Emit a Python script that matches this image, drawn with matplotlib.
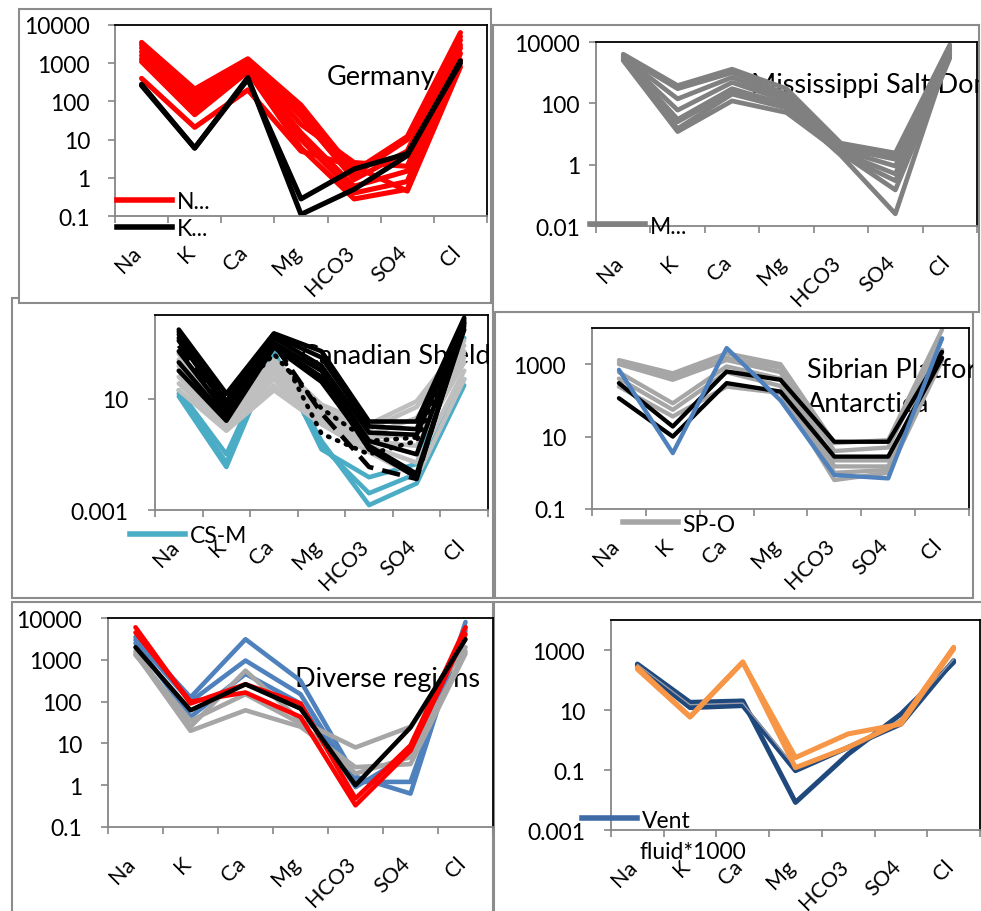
import matplotlib
matplotlib.use("Agg")
import matplotlib.pyplot as plt
from matplotlib.patches import Rectangle
from matplotlib.lines import Line2D
from matplotlib.ticker import NullLocator
from matplotlib.transforms import ScaledTranslation
import numpy as np

plt.rcParams["font.family"] = ["Lato", "DejaVu Sans"]

W, H, DPI = 981, 912, 100
TICK_FS = 16.5
CAT_FS = 15.5
TITLE_FS = 19.5

ions = ["Na", "K", "Ca", "Mg", "HCO3", "SO4", "Cl"]

# ---------------- Germany ----------------
germany_n = [
    [3500, 210, 1300, 80, 1.5, 12, 6300],
    [3000, 160, 1200, 60, 1.2, 10, 5000],
    [2500, 120, 1000, 40, 0.9, 5, 4000],
    [2000, 90, 900, 25, 2.5, 2, 3000],
    [1600, 70, 800, 15, 0.6, 1.5, 2500],
    [1300, 55, 700, 10, 0.4, 0.8, 1800],
    [1100, 45, 600, 6, 0.28, 0.5, 1200],
    [400, 21, 200, 5, 2.0, 0.45, 800],
]
germany_k = [
    [280, 6, 420, 0.11, 0.5, 3.8, 1150],
    [260, 6, 380, 0.28, 1.7, 4.3, 1000],
]

# ---------------- Mississippi Salt Dome ----------------
mississippi = [
    [4000, 380, 1300, 300, 5, 2.4, 8000],
    [3500, 300, 1000, 200, 4, 2, 7000],
    [3200, 140, 700, 150, 3.5, 1.5, 6000],
    [3000, 60, 480, 120, 3, 0.9, 5000],
    [2800, 30, 300, 90, 2.5, 0.5, 4000],
    [2600, 15, 200, 70, 2.2, 0.3, 3500],
    [2500, 12, 120, 50, 2.4, 0.15, 3000],
    [3300, 25, 250, 80, 2.0, 0.025, 5000],
]

# ---------------- Canadian Shield ----------------
canadian_m = [
    [12, 0.035, 400, 0.3, 0.0015, 0.009, 30],
    [15, 0.05, 300, 0.2, 0.004, 0.02, 50],
    [20, 0.1, 500, 0.15, 0.015, 0.045, 1500],
]
canadian_gray = [
    [400, 6, 250, 6, 1.2, 8, 1200],
    [250, 4, 180, 4, 0.8, 5, 800],
    [150, 2.5, 120, 3, 0.5, 2, 500],
    [100, 1.8, 80, 2, 0.4, 0.5, 300],
    [60, 1.2, 50, 1.5, 0.3, 0.2, 200],
    [35, 0.9, 30, 1.3, 0.2, 0.05, 100],
    [20, 0.7, 20, 1.2, 0.12, 0.015, 50],
]
canadian_black = [
    [3000, 15, 2200, 500, 1.5, 1.5, 8000],
    [2000, 8, 1800, 300, 1.0, 0.8, 7000],
    [1200, 5, 1500, 150, 0.6, 0.5, 6000],
    [500, 3, 1000, 100, 0.3, 0.1, 5000],
    [200, 2, 800, 60, 0.15, 0.015, 4000],
    [100, 1.6, 700, 40, 0.2, 0.02, 3000],
]
canadian_dotted = [
    [2500, 10, 1250, 0.55, 0.1, 0.3, 4000],
    [1500, 6, 400, 4.4, 0.3, 0.4, 5000],
]
canadian_dashed = [
    [800, 4, 900, 3, 0.035, 0.013, 6000],
]

# ---------------- Siberian Platform / Antarctica ----------------
siberian_o = [
    [1300, 560, 2000, 1000, 6.6, 8, 9000],
    [1100, 450, 1500, 800, 4, 5, 5000],
    [1000, 370, 1300, 600, 2.2, 2.2, 2500],
    [600, 83, 870, 400, 1.5, 1.5, 2000],
    [400, 55, 600, 250, 1, 1.2, 1500],
    [240, 36, 240, 160, 0.63, 1, 1300],
]
siberian_black = [
    [300, 19, 630, 370, 7.2, 7.2, 2200],
    [115, 10, 300, 175, 2.8, 2.8, 1500],
]
antarctica = [700, 3.5, 2800, 100, 0.87, 0.7, 5200]

# ---------------- Diverse regions ----------------
diverse_blue = [
    [3500, 126, 3100, 316, 1.6, 0.63, 8000],
    [3000, 100, 960, 150, 1.2, 1.2, 6000],
    [2500, 43, 460, 90, 0.9, 5.6, 5000],
]
diverse_gray = [
    [1600, 25, 550, 35, 8, 25, 2000],
    [1400, 20, 62, 25, 2.7, 3.2, 1400],
    [1300, 35, 150, 30, 1.9, 4.7, 1600],
]
diverse_red = [
    [6000, 90, 260, 90, 0.48, 9, 6000],
    [4500, 100, 165, 43, 0.33, 6.7, 4100],
]
diverse_black = [2000, 62, 260, 68, 1.0, 24, 3100]

# ---------------- Vent fluid ----------------
vent = [
    [340, 18, 20, 0.0083, 0.34, 7.3, 390],
    [300, 12, 14, 0.095, 0.57, 3.4, 440],
]
vent_thin = [330, 15, 17, 0.12, 0.5, 5, 500]
vent_orange = [
    [230, 5.8, 390, 0.26, 1.6, 3.4, 1080],
    [260, 6, 400, 0.12, 0.57, 4, 1230],
]

fig = plt.figure(figsize=(W / DPI, H / DPI), dpi=DPI)
bg = fig.add_axes([0, 0, 1, 1])
bg.set_xlim(0, W)
bg.set_ylim(H, 0)
bg.axis("off")


def frame(x0, y0, x1, y1):
    r = Rectangle((x0, y0), x1 - x0, y1 - y0, facecolor="white",
                  edgecolor="#8c8c8c", lw=1.5)
    bg.add_patch(r)
    return r


fr_can = frame(12, 299, 493, 599)
fr_ger = frame(19, 10, 491, 304)
fr_sib = frame(495, 313, 973, 599)
fr_mis = frame(493, 26, 979, 313)
fr_div = frame(12, 603, 493, 920)
fr_ven = frame(494, 603, 990, 920)

x = np.arange(len(ions))


def panel(box, ylim, yticks, ylabels, ytotal):
    x0, y0, x1, y1 = box
    ax = fig.add_axes([x0 / W, 1 - y1 / H, (x1 - x0) / W, (y1 - y0) / H])
    ax.set_yscale("log")
    ax.set_ylim(*ylim)
    ax.set_xlim(-0.5, 6.5)
    ax.set_yticks(yticks)
    ax.set_yticklabels(ylabels)
    ax.yaxis.set_minor_locator(NullLocator())
    ax.set_xticks(np.arange(-0.5, 7, 1))
    ax.set_xticklabels([""] * 8)
    ax.set_xticks(x, minor=True)
    ax.set_xticklabels(ions, minor=True)
    tick_len = 5
    ax.tick_params(which="major", direction="out", length=tick_len,
                   width=1.2, color="#868686", labelsize=TICK_FS)
    ax.tick_params(axis="y", pad=(ytotal * 72 / DPI) - tick_len)
    ax.tick_params(axis="x", which="minor", length=0,
                   pad=26 * 72 / DPI, labelsize=CAT_FS)
    for s in ["left", "bottom"]:
        ax.spines[s].set_color("#868686")
        ax.spines[s].set_linewidth(1.3)
    for s in ["top", "right"]:
        ax.spines[s].set_color("black")
        ax.spines[s].set_linewidth(1.3)
    shift = ScaledTranslation(4 / DPI, 0, fig.dpi_scale_trans)
    for lbl in ax.get_xticklabels(minor=True):
        lbl.set_rotation(45)
        lbl.set_ha("right")
        lbl.set_transform(lbl.get_transform() + shift)
    return ax


def draw(ax, rows, color, lw=3.4, ls="-", **kw):
    hs = []
    for r in rows:
        h, = ax.plot(x, r, color=color, lw=lw, ls=ls,
                     solid_capstyle="round", solid_joinstyle="round", **kw)
        hs.append(h)
    return hs


def title(ax, px, py, s, clip, **kw):
    t = ax.text(px, py, s, transform=bg.transData, fontsize=TITLE_FS,
                va="center", ha="left", zorder=1, **kw)
    t.set_clip_on(True)
    t.set_clip_path(clip)
    return t


def legend(ax, handles, labels, px, py, spacing=0.3):
    leg = ax.legend(handles, labels, loc="center left",
                    bbox_to_anchor=(px / W, 1 - py / H),
                    bbox_transform=fig.transFigure, frameon=False,
                    borderpad=0, borderaxespad=0, handlelength=2.4,
                    handletextpad=0.2, fontsize=TICK_FS, labelspacing=spacing)
    return leg


# Germany
ax1 = panel((115, 26, 487, 217), (0.1, 10000),
            [0.1, 1, 10, 100, 1000, 10000],
            ["0.1", "1", "10", "100", "1000", "10000"], 25)
title(ax1, 327, 78, "Germany", fr_ger)
draw(ax1, germany_n, "#ff0000", lw=3.7)
draw(ax1, germany_k, "black", lw=3.7)
legend(ax1, [Line2D([], [], color="#ff0000", lw=4.0),
             Line2D([], [], color="black", lw=4.0)],
       ["N...", "K..."], 117, 216, spacing=0.3)

# Mississippi
ax2 = panel((596, 43, 977, 227), (0.01, 10000),
            [0.01, 1, 100, 10000], ["0.01", "1", "100", "10000"], 16)
title(ax2, 751, 85, "Mississippi Salt Dome", fr_mis)
draw(ax2, mississippi, "#808080", lw=3.4)
legend(ax2, [Line2D([], [], color="#808080", lw=4.0)], ["M..."], 590, 227)

# Canadian Shield
ax3 = panel((155, 316, 488, 511), (0.001, 10000),
            [0.001, 10], ["0.001", "10"], 27)
title(ax3, 301, 357, "Canadian Shield", fr_can)
draw(ax3, canadian_m, "#4bacc6", lw=3.3)
draw(ax3, canadian_gray, "#bfbfbf", lw=3.3)
draw(ax3, canadian_black, "black", lw=3.3)
for r in canadian_dotted:
    ax3.plot(x, r, color="black", lw=3.3, ls=(0, (0.3, 1.8)),
             dash_capstyle="round")
for r in canadian_dashed:
    ax3.plot(x, r, color="black", lw=3.3, ls=(0, (4, 2)))
legend(ax3, [Line2D([], [], color="#4bacc6", lw=4.0)], ["CS-M"], 130, 537)

# Siberian Platform / Antarctica
ax4 = panel((592, 329, 969, 510), (0.1, 10000),
            [0.1, 10, 1000], ["0.1", "10", "1000"], 26)
title(ax4, 807, 371, "Sibrian Platform", fr_sib)
title(ax4, 807, 405, "Antarctica", fr_sib)
draw(ax4, siberian_o, "#a6a6a6", lw=3.1)
draw(ax4, siberian_black, "black", lw=3.1)
draw(ax4, [antarctica], "#4f81bd", lw=3.1)
legend(ax4, [Line2D([], [], color="#a6a6a6", lw=4.0)], ["SP-O"], 623, 525)

# Diverse regions
ax5 = panel((108, 619, 493, 828), (0.1, 10000),
            [0.1, 1, 10, 100, 1000, 10000],
            ["0.1", "1", "10", "100", "1000", "10000"], 26)
title(ax5, 295, 680, "Diverse regions", fr_div)
draw(ax5, diverse_blue, "#4f81bd", lw=3.3)
draw(ax5, diverse_gray, "#a6a6a6", lw=3.3)
draw(ax5, diverse_red, "#ff0000", lw=3.3)
draw(ax5, [diverse_black], "black", lw=3.3)

# Vent fluid
ax6 = panel((611, 621, 980, 831), (0.001, 10000),
            [0.001, 0.1, 10, 1000], ["0.001", "0.1", "10", "1000"], 26)
draw(ax6, vent, "#1f497d", lw=3.6)
draw(ax6, [vent_thin], "#9a9aa8", lw=1.0)
draw(ax6, vent_orange, "#f79646", lw=3.6)
legend(ax6, [Line2D([], [], color="#3e6aa6", lw=4.0)], ["Vent"], 582, 821)
ax6.text(640, 853, "fluid*1000", transform=bg.transData, fontsize=TICK_FS,
         va="center", ha="left", zorder=6)

fig.savefig("out.png", dpi=DPI)
